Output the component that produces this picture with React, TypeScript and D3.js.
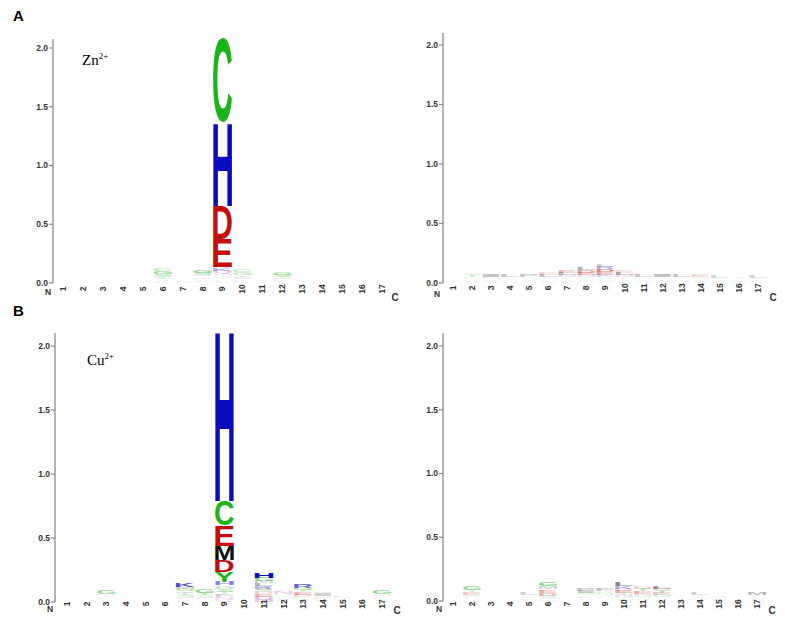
import React, { useMemo } from "react";
import * as d3 from "d3";

type Stack = [string, number][];

// sequence positions and y ticks (bits)
const positions = d3.range(1, 18);
const yTicks = [0, 0.5, 1.0, 1.5, 2.0];

// each column: letters from bottom to top, height in bits
const znBound: Stack[] = [
  [], [], [], [], [],
  [["L", 0.01], ["A", 0.01], ["V", 0.01], ["I", 0.01], ["T", 0.015], ["S", 0.02], ["G", 0.025], ["C", 0.02]],
  [["A", 0.01], ["S", 0.012]],
  [["A", 0.01], ["L", 0.01], ["V", 0.01], ["I", 0.01], ["T", 0.012], ["Q", 0.015], ["S", 0.02], ["G", 0.025]],
  [["A", 0.01], ["V", 0.01], ["L", 0.01], ["T", 0.012], ["S", 0.012], ["G", 0.015], ["N", 0.015], ["Q", 0.02], ["K", 0.02], ["R", 0.012],
   ["E", 0.24], ["D", 0.28], ["H", 0.71], ["C", 0.72]],
  [["A", 0.01], ["L", 0.01], ["V", 0.01], ["I", 0.01], ["S", 0.015], ["T", 0.015], ["G", 0.02], ["C", 0.02]],
  [],
  [["A", 0.01], ["V", 0.01], ["L", 0.01], ["I", 0.01], ["T", 0.012], ["S", 0.02], ["G", 0.022]],
  [], [], [], [], [],
];

const znFree: Stack[] = [
  [],
  [["A", 0.01], ["S", 0.01], ["G", 0.01], ["V", 0.01], ["L", 0.01], ["T", 0.018]],
  [["A", 0.01], ["S", 0.01], ["G", 0.01], ["V", 0.01], ["L", 0.01], ["I", 0.018]],
  [["A", 0.01], ["S", 0.01], ["G", 0.01], ["V", 0.01], ["T", 0.01], ["L", 0.018]],
  [["A", 0.01], ["S", 0.01], ["G", 0.01], ["V", 0.01], ["T", 0.01], ["P", 0.018]],
  [["A", 0.01], ["S", 0.01], ["G", 0.01], ["V", 0.01], ["T", 0.01], ["L", 0.018], ["E", 0.015]],
  [["A", 0.01], ["S", 0.01], ["G", 0.01], ["V", 0.01], ["T", 0.01], ["N", 0.015], ["L", 0.018], ["E", 0.02]],
  [["A", 0.01], ["S", 0.01], ["G", 0.01], ["V", 0.01], ["T", 0.012], ["N", 0.015], ["E", 0.02], ["D", 0.022], ["L", 0.02]],
  [["A", 0.01], ["S", 0.01], ["G", 0.01], ["V", 0.01], ["T", 0.012], ["K", 0.015], ["E", 0.022], ["D", 0.025], ["R", 0.02], ["L", 0.015]],
  [["A", 0.01], ["S", 0.01], ["G", 0.01], ["V", 0.01], ["T", 0.012], ["N", 0.015], ["L", 0.02], ["E", 0.015]],
  [["A", 0.01], ["S", 0.01], ["G", 0.01], ["V", 0.01], ["T", 0.01], ["L", 0.018], ["E", 0.012]],
  [["A", 0.01], ["S", 0.01], ["G", 0.01], ["V", 0.01], ["T", 0.01], ["I", 0.018], ["D", 0.012]],
  [["A", 0.01], ["S", 0.01], ["G", 0.01], ["V", 0.01], ["T", 0.01], ["L", 0.018]],
  [["A", 0.01], ["S", 0.01], ["G", 0.01], ["V", 0.01], ["T", 0.01], ["E", 0.016]],
  [["A", 0.01], ["S", 0.01], ["G", 0.01], ["V", 0.01], ["L", 0.016]],
  [["A", 0.01], ["S", 0.01], ["G", 0.01], ["V", 0.01], ["T", 0.012]],
  [["A", 0.01], ["S", 0.01], ["G", 0.01], ["V", 0.01], ["L", 0.016]],
];

const cuBound: Stack[] = [
  [], [],
  [["A", 0.01], ["V", 0.01], ["L", 0.01], ["S", 0.01], ["T", 0.012], ["N", 0.012], ["G", 0.025]],
  [], [], [],
  [["A", 0.01], ["V", 0.01], ["L", 0.01], ["I", 0.01], ["S", 0.015], ["T", 0.015], ["Q", 0.015], ["G", 0.02], ["M", 0.015], ["K", 0.03]],
  [["A", 0.01], ["V", 0.01], ["L", 0.01], ["I", 0.01], ["S", 0.015], ["T", 0.018], ["G", 0.025]],
  [["Q", 0.015], ["N", 0.015], ["A", 0.01], ["F", 0.015], ["L", 0.01], ["T", 0.015], ["S", 0.02], ["G", 0.02], ["K", 0.01], ["H", 0.025],
   ["Y", 0.08], ["D", 0.09], ["M", 0.115], ["E", 0.16], ["C", 0.19], ["H", 1.33]],
  [],
  [["N", 0.02], ["Q", 0.02], ["E", 0.02], ["D", 0.015], ["S", 0.015], ["A", 0.015], ["R", 0.02], ["L", 0.02], ["M", 0.015], ["G", 0.025], ["H", 0.04]],
  [["A", 0.01], ["V", 0.01], ["L", 0.01], ["S", 0.01], ["T", 0.01], ["G", 0.012], ["N", 0.018], ["Q", 0.012]],
  [["A", 0.01], ["V", 0.01], ["L", 0.01], ["S", 0.01], ["D", 0.015], ["E", 0.02], ["T", 0.015], ["G", 0.02], ["R", 0.028]],
  [["A", 0.01], ["V", 0.01], ["L", 0.01], ["S", 0.01], ["G", 0.01], ["I", 0.015], ["Q", 0.012]],
  [["A", 0.01], ["S", 0.01], ["G", 0.01], ["V", 0.01], ["L", 0.012]],
  [],
  [["A", 0.01], ["V", 0.01], ["L", 0.01], ["S", 0.01], ["T", 0.01], ["N", 0.012], ["G", 0.025]],
];

const cuFree: Stack[] = [
  [],
  [["A", 0.01], ["V", 0.01], ["L", 0.01], ["S", 0.01], ["I", 0.01], ["E", 0.018], ["T", 0.015], ["G", 0.025]],
  [], [],
  [["A", 0.01], ["S", 0.01], ["G", 0.01], ["V", 0.01], ["T", 0.01], ["L", 0.016]],
  [["N", 0.012], ["Q", 0.012], ["S", 0.015], ["D", 0.02], ["E", 0.02], ["L", 0.012], ["M", 0.015], ["T", 0.015], ["G", 0.025]],
  [],
  [["A", 0.01], ["V", 0.01], ["L", 0.01], ["S", 0.01], ["T", 0.01], ["G", 0.015], ["I", 0.015], ["P", 0.018]],
  [["A", 0.01], ["V", 0.01], ["L", 0.01], ["S", 0.01], ["T", 0.01], ["G", 0.015], ["Q", 0.012], ["F", 0.018]],
  [["A", 0.01], ["S", 0.01], ["G", 0.01], ["N", 0.015], ["T", 0.015], ["E", 0.02], ["D", 0.015], ["K", 0.02], ["L", 0.025]],
  [["A", 0.01], ["V", 0.01], ["S", 0.01], ["G", 0.015], ["N", 0.012], ["E", 0.02], ["T", 0.02], ["D", 0.015]],
  [["A", 0.01], ["V", 0.01], ["S", 0.01], ["G", 0.015], ["E", 0.018], ["T", 0.02], ["D", 0.015], ["L", 0.022]],
  [],
  [["A", 0.01], ["S", 0.01], ["G", 0.01], ["V", 0.01], ["T", 0.01], ["L", 0.016]],
  [["A", 0.01], ["S", 0.01], ["G", 0.01], ["V", 0.012]],
  [],
  [["A", 0.01], ["S", 0.01], ["G", 0.01], ["V", 0.01], ["T", 0.01], ["M", 0.02]],
];

// chemistry colour scheme
const colorOf = (ch: string) => {
  if ("GSTYC".includes(ch)) return "#18b418";
  if ("NQ".includes(ch)) return "#b03cb0";
  if ("KRH".includes(ch)) return "#0c0cbf";
  if ("DE".includes(ch)) return "#c40e0e";
  return "#111";
};

const glyphFont = '"Liberation Sans", Arial, sans-serif';
const boxCache: Record<string, { l: number; r: number; a: number; d: number }> = {};
function glyphBox(ch: string) {
  if (boxCache[ch]) return boxCache[ch];
  const ctx = document.createElement("canvas").getContext("2d")!;
  ctx.font = `bold 100px ${glyphFont}`;
  const m = ctx.measureText(ch);
  const b = {
    l: m.actualBoundingBoxLeft,
    r: m.actualBoundingBoxRight,
    a: m.actualBoundingBoxAscent,
    d: m.actualBoundingBoxDescent,
  };
  boxCache[ch] = b;
  return b;
}

type Frame = {
  ax: number; y0: number; y2: number; top: number;
  x1: number; x17: number; tickY: number;
  nX: number; nY: number; cX: number; cY: number;
};

function Logo({ data, f }: { data: Stack[]; f: Frame }) {
  const x = d3.scalePoint<number>().domain(positions).range([f.x1, f.x17]);
  const y = d3.scaleLinear().domain([0, 2]).range([f.y0, f.y2]);
  const w = x.step() * 0.95;

  const glyphs = useMemo(() => {
    const out: any[] = [];
    data.forEach((col, i) => {
      let cum = 0;
      col.forEach(([ch, h], j) => {
        const yb = y(cum);
        const yt = y(cum + h);
        cum += h;
        const b = glyphBox(ch);
        const sx = w / (b.l + b.r);
        const sy = (yb - yt) / (b.a + b.d);
        const left = (x(positions[i]) as number) - w / 2;
        out.push({
          key: `${i}-${j}`,
          ch,
          fill: colorOf(ch),
          op: Math.min(1, Math.pow(h / 0.035, 2)),
          transform: `translate(${left},${yt}) scale(${sx},${sy}) translate(${b.l},${b.a})`,
        });
      });
    });
    return out;
  }, [data]);

  return (
    <g>
      <line x1={f.ax} x2={f.ax} y1={f.y0} y2={f.top} stroke="#8a8a8a" strokeWidth={1.3} />
      {yTicks.map((t) => (
        <g key={t}>
          <line x1={f.ax - 4} x2={f.ax} y1={y(t)} y2={y(t)} stroke="#8a8a8a" strokeWidth={1.2} />
          <text x={f.ax - 5} y={y(t)} dy="0.35em" textAnchor="end" fontSize={8.5}
            fontWeight="bold" fontFamily={glyphFont} fill="#333">{t.toFixed(1)}</text>
        </g>
      ))}
      {positions.map((p) => (
        <text key={p} transform={`translate(${x(p)},${f.tickY}) rotate(-90)`} textAnchor="middle"
          dy="0.35em" fontSize={8.5} fontWeight="bold" fontFamily={glyphFont} fill="#333">{p}</text>
      ))}
      <text x={f.nX} y={f.nY} dy="0.35em" textAnchor="middle" fontSize={8.5} fontWeight="bold"
        fontFamily={glyphFont} fill="#333">N</text>
      <text x={f.cX} y={f.cY} dy="0.35em" textAnchor="middle" fontSize={10} fontWeight="bold"
        fontFamily={glyphFont} fill="#333">C</text>
      {glyphs.map((g) => (
        <text key={g.key} transform={g.transform} fontSize={100} fontWeight="bold"
          fontFamily={glyphFont} fill={g.fill} fillOpacity={g.op}>{g.ch}</text>
      ))}
    </g>
  );
}

const frames: Record<string, Frame> = {
  aLeft: { ax: 53, y0: 283, y2: 48, top: 39, x1: 63, x17: 382, tickY: 289, nX: 48, nY: 292, cX: 395, cY: 297 },
  aRight: { ax: 443, y0: 283, y2: 45, top: 33, x1: 453, x17: 758, tickY: 288, nX: 437, nY: 294, cX: 773, cY: 297 },
  bLeft: { ax: 55, y0: 602, y2: 346, top: 333, x1: 67, x17: 382, tickY: 604, nX: 50, nY: 609, cX: 397, cY: 610 },
  bRight: { ax: 443, y0: 601, y2: 346, top: 333, x1: 453, x17: 757, tickY: 604, nX: 439, nY: 609, cX: 772, cY: 610 },
};

export default function App() {
  return (
    <svg width={785} height={619} style={{ position: "absolute", left: 0, top: 0, background: "#fff" }}>
      <text x={13} y={21} fontSize={15} fontWeight="bold" fontFamily="Arial, Liberation Sans, sans-serif">A</text>
      <text x={13} y={316} fontSize={15} fontWeight="bold" fontFamily="Arial, Liberation Sans, sans-serif">B</text>
      <Logo data={znBound} f={frames.aLeft} />
      <Logo data={znFree} f={frames.aRight} />
      <Logo data={cuBound} f={frames.bLeft} />
      <Logo data={cuFree} f={frames.bRight} />
      <text x={82} y={65} fontSize={15} fontFamily='"Liberation Serif", "Times New Roman", serif'>
        Zn<tspan fontSize={9} dy={-6}>2+</tspan>
      </text>
      <text x={87} y={365} fontSize={15} fontFamily='"Liberation Serif", "Times New Roman", serif'>
        Cu<tspan fontSize={9} dy={-6}>2+</tspan>
      </text>
    </svg>
  );
}
